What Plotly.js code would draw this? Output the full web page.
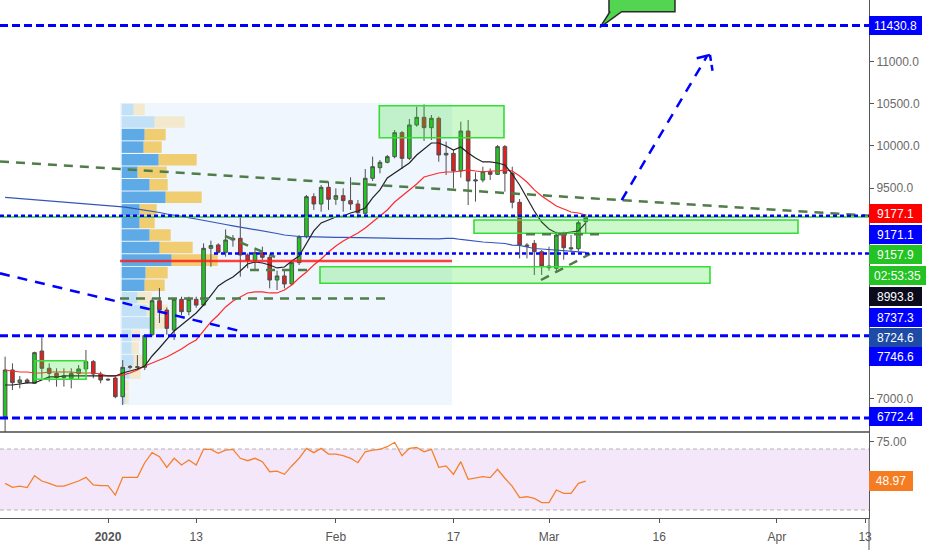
<!DOCTYPE html>
<html><head><meta charset="utf-8">
<script src="https://cdn.plot.ly/plotly-3.0.1.min.js"></script>
<style>body{margin:0;background:#fff}#chart{width:932px;height:550px}</style>
</head><body><div id="chart"></div>
<script>
// ---------- daily candles (BTCUSD) ----------
const dates = [
'2019-12-18','2019-12-19','2019-12-20','2019-12-21','2019-12-22','2019-12-23','2019-12-24','2019-12-25','2019-12-26','2019-12-27','2019-12-28','2019-12-29','2019-12-30','2019-12-31',
'2020-01-01','2020-01-02','2020-01-03','2020-01-04','2020-01-05','2020-01-06','2020-01-07','2020-01-08','2020-01-09','2020-01-10','2020-01-11','2020-01-12','2020-01-13','2020-01-14','2020-01-15','2020-01-16','2020-01-17','2020-01-18','2020-01-19','2020-01-20','2020-01-21','2020-01-22','2020-01-23','2020-01-24','2020-01-25','2020-01-26','2020-01-27','2020-01-28','2020-01-29','2020-01-30','2020-01-31',
'2020-02-01','2020-02-02','2020-02-03','2020-02-04','2020-02-05','2020-02-06','2020-02-07','2020-02-08','2020-02-09','2020-02-10','2020-02-11','2020-02-12','2020-02-13','2020-02-14','2020-02-15','2020-02-16','2020-02-17','2020-02-18','2020-02-19','2020-02-20','2020-02-21','2020-02-22','2020-02-23','2020-02-24','2020-02-25','2020-02-26','2020-02-27','2020-02-28','2020-02-29',
'2020-03-01','2020-03-02','2020-03-03','2020-03-04','2020-03-05','2020-03-06'];
const open = [6787,7341,7191,7222,7183,7566,7361,7301,7250,7242,7301,7353,7440,7293,
7222,7246,7024,7373,7380,7373,7760,8163,8052,7815,8180,8033,8180,8111,8785,8825,8738,8884,8904,8706,8639,8734,8678,8409,8457,8362,8615,8923,9398,9311,9509,
9367,9410,9351,9311,9200,9616,9742,9806,9873,10158,9853,10249,10340,10217,10328,9893,9912,9703,10177,9584,9596,9695,9663,9992,9675,9331,8824,8844,8745,
8575,8548,8951,8792,8780,9101];
const high = [7499,7420,7270,7242,7558,7729,7420,7361,7361,7361,7400,7578,7460,7321,
7242,7262,7459,7400,7518,7760,8190,8314,8083,8190,8211,8211,8211,8844,8876,8844,9010,8943,9181,8726,8765,8805,8706,8520,8528,8647,8943,9418,9438,9537,9576,
9497,9497,9628,9359,9726,9873,9833,9893,10189,10177,10320,10466,10494,10367,10348,10051,9952,10288,10308,9687,9754,9734,10011,10011,9754,9370,8848,8884,8765,
8804,8982,8982,8943,9121,9192];
const low = [6600,7103,7123,7183,7180,7242,7202,7143,7143,7123,7222,7321,7242,7183,
7210,7005,6925,7350,7340,7340,7740,7899,7760,7697,7993,7990,8080,8100,8567,8726,8686,8805,8449,8548,8528,8647,8310,8290,8310,8350,8587,8904,9240,9220,9240,
9300,9220,9240,9141,9180,9584,9675,9794,9853,9726,9833,10229,10059,10071,9813,9655,9497,9624,9299,9339,9568,9596,9655,9457,9260,8666,8666,8468,8468,
8520,8508,8650,8740,8752,8967];
const close = [7341,7191,7222,7191,7547,7361,7301,7250,7270,7301,7353,7440,7293,7222,
7230,7024,7373,7380,7373,7750,8163,8052,7835,8180,8033,8180,8111,8785,8817,8738,8884,8904,8706,8639,8734,8678,8409,8457,8362,8615,8923,9398,9311,9509,9367,
9410,9351,9311,9208,9616,9754,9806,9873,10158,9853,10249,10340,10217,10328,9893,9912,9703,10177,9584,9596,9695,9663,9992,9675,9331,8824,8810,8745,8575,
8555,8943,8792,8780,9089,9157.9];

// ---------- moving averages ----------
const maFast = [7163,7163,7175,7187,7187,7222,7258,7258,7270,7270,7270,7270,7270,7270,7270,7270,7305,7329,7353,7388,
7507,7602,7697,7804,7875,7946,8017,8112,8231,8338,8397,8445,8516,8599,8623,8611,8587,8552,8563,8635,
8694,8848,8991,9086,9121,9157,9169,9204,9228,9264,9383,9478,9620,9679,9738,9798,9893,9964,10035,10035,
9999,9952,9988,9917,9857,9810,9810,9798,9774,9667,9537,9383,9228,9097,9014,8967,8967,8979,8991,9086];
const maMid = [7341,7329,7317,7317,7305,7305,7317,7317,7317,7317,7305,7305,7305,7293,7270,7270,7281,7305,7341,7388,
7424,7460,7495,7543,7590,7650,7697,7804,7911,7994,8089,8160,8207,8255,8267,8267,8255,8255,8290,8350,
8433,8504,8587,8658,8741,8813,8872,8919,8967,9026,9097,9169,9240,9335,9406,9478,9549,9632,9655,9679,
9691,9691,9703,9715,9703,9691,9703,9703,9715,9703,9644,9572,9478,9406,9347,9287,9252,9216,9204,9181];
const maSlow = [9389,9382,9375,9368,9361,9354,9347,9341,9335,9328,9321,9315,9308,9302,9296,9287,9276,9264,9252,9234,
9222,9210,9192,9181,9169,9150,9133,9115,9097,9082,9068,9052,9038,9023,9009,8994,8979,8961,8943,8931,
8925,8923,8923,8919,8919,8916,8914,8911,8908,8908,8908,8908,8905,8904,8902,8902,8899,8898,8896,8896,
8902,8902,8890,8878,8866,8860,8854,8848,8842,8824,8819,8801,8783,8777,8771,8765,8753,8747,8741,8738];

// ---------- RSI ----------
const rsi = [47.5,44.9,45.7,44.7,52.5,49.0,47.5,45.7,45.7,47.5,
49.0,51.4,46.4,46.0,46.0,39.8,51.4,51.4,51.4,61.0,
67.6,65.0,58.0,63.9,59.5,62.8,59.5,69.8,69.8,67.2,
69.3,69.8,63.9,62.3,63.9,61.7,55.1,55.5,53.4,58.9,
63.9,70.4,67.6,70.4,66.7,66.7,65.6,63.9,61.0,68.2,
69.3,69.8,71.5,74.4,65.6,70.4,71.0,68.2,69.8,58.0,
58.9,53.4,61.7,50.1,50.8,51.9,51.2,56.7,50.8,45.5,
38.1,38.7,37.6,34.8,34.8,43.1,40.9,40.9,47.5,48.97];

// ---------- volume profile (rows by price) ----------
const vpLevels = [10433,10284,10135,9986,9837,9688,9539,9390,9241,9092,8943,8794,8645,8496,8347,8198,8049,7900,7751,7602,7453,7304,7155,7006];
const vpUp   = [12,33,23,22,37,16,28,44,18,18,28,38,50,24,23,16,25,29,10,10,12,8,4,4];
const vpDown = [11,30,21,18,38,29,18,36,17,15,21,33,46,22,20,14,21,16,8,7,9,11,3,3];
const vpStart = '2020-01-02 20:44';
const vpBgX = ['2020-01-02 15:10','2020-02-16 19:10'];
const vpBgY = [6925,10510];
const pocLevel = 8634.5;

// ---------- drawings ----------
const heavyLevels = [11430.8, 7746.6, 6772.4];
const dotLevel = 9171.1;
const supportLevel = 8724.6, supportStart = '2020-01-15 10:00';
const zoneX0 = ['2020-02-06 21:50','2020-02-19 19:10','2020-01-29 20:10','2019-12-22 01:40'];
const zoneX1 = ['2020-02-23 21:00','2020-04-03 21:00','2020-03-22 21:40','2019-12-29 00:15'];
const zoneY0 = [10098, 8963, 8370, 7231];
const zoneY1 = [10478, 9121, 8567, 7451];
const trendX0 = ['2019-12-17 07:20','2020-01-02 15:10','2020-01-16 22:00','2020-01-20 07:40','2020-02-28 21:40','2020-02-26 21:00'];
const trendY0 = [9815, 8189, 8931, 8527, 8409, 8951];
const trendX1 = ['2020-04-13 12:53','2020-02-08 08:50','2020-01-23 17:20','2020-01-28 11:30','2020-03-06 14:00','2020-03-07 22:30'];
const trendY1 = [9173, 8189, 8682, 8527, 8718, 8951];
const descX = ['2019-12-17 07:20','2020-01-19 05:30'], descY = [8488, 7798];
const arrowX = ['2020-03-10 21:20','2020-03-22 11:00'], arrowY = [9358, 11059];
const chevX = ['2020-03-21 02:20','2020-03-22 21:40','2020-03-23 06:30'], chevY = [11040, 11080, 10881];
const calloutX = ['2020-03-09 03:50','2020-03-18 03:20','2020-03-18 03:20','2020-03-10 21:20','2020-03-07 22:30','2020-03-09 07:10','2020-03-09 03:50','2020-03-09 03:50'];
const calloutY = [11950,11950,11593,11593,11408,11593,11593,11950];

// ---------- axis tick labels ----------
const xTickVals = ['2020-01-01','2020-01-13','2020-02-01','2020-02-17','2020-03-01','2020-03-16','2020-04-01','2020-04-13'];
const xTickText = ['<b>2020</b>','13','Feb','17','Mar','16','Apr','13'];
const yTickVals = [7000, 9500, 10000, 10500, 11000];
const priceLabels = ['11430.8','9177.1','9171.1','9157.9','02:53:35','8993.8','8737.3','8724.6','7746.6','6772.4'];
const rsiLabel = '48.97';

// ---------- build ----------
const FONT = 'Liberation Sans, Arial, sans-serif';
const DAY_PER_UNIT = 86400000/7.35;
const vpBaseMs = new Date(vpStart.replace(' ','T')+':00Z').getTime();
const vaTop = 2, vaBot = 14;
const upCol = vpUp.map((v,i)=> (i>=vaTop && i<=vaBot) ? '#5eaae6' : '#c2e0f6');
const dnCol = vpDown.map((v,i)=> (i>=vaTop && i<=vaBot) ? '#f1cd72' : '#f2e9cf');

const traces = [
  {type:'bar', orientation:'h', y:vpLevels, x:vpUp.map(v=>v*DAY_PER_UNIT), base:vpLevels.map(()=>vpBaseMs),
   width:137, marker:{color:upCol, line:{width:0}}, xaxis:'x', yaxis:'y', hoverinfo:'skip'},
  {type:'bar', orientation:'h', y:vpLevels, x:vpDown.map(v=>v*DAY_PER_UNIT), base:vpUp.map(v=>vpBaseMs+v*DAY_PER_UNIT),
   width:137, marker:{color:dnCol, line:{width:0}}, xaxis:'x', yaxis:'y', hoverinfo:'skip'},
  {type:'candlestick', x:dates, open:open, high:high, low:low, close:close, xaxis:'x', yaxis:'y',
   whiskerwidth:0,
   increasing:{line:{color:'#4f4f4f', width:1}, fillcolor:'#22c622'},
   decreasing:{line:{color:'#4f4f4f', width:1}, fillcolor:'#e81d1d'}, hoverinfo:'skip'},
  {type:'scatter', mode:'lines', x:dates, y:maSlow, line:{color:'#3556b8', width:1.2}, xaxis:'x', yaxis:'y', hoverinfo:'skip'},
  {type:'scatter', mode:'lines', x:dates, y:maMid, line:{color:'#ff2b2b', width:1.2}, xaxis:'x', yaxis:'y', hoverinfo:'skip'},
  {type:'scatter', mode:'lines', x:dates, y:maFast, line:{color:'#222222', width:1.2}, xaxis:'x', yaxis:'y', hoverinfo:'skip'},
  {type:'scatter', mode:'lines', x:calloutX, y:calloutY, fill:'toself', fillcolor:'#52d652', line:{color:'#2b2b2b', width:1.5}, xaxis:'x', yaxis:'y', hoverinfo:'skip'},
  {type:'scatter', mode:'lines', x:dates, y:rsi, line:{color:'#f5802b', width:1.3}, xaxis:'x', yaxis:'y2', hoverinfo:'skip'}
];

const shapes = [];
// VP background
shapes.push({type:'rect', xref:'x', yref:'y', x0:vpBgX[0], x1:vpBgX[1], y0:vpBgY[0], y1:vpBgY[1], fillcolor:'#eff6fd', line:{width:0}, layer:'below'});
// RSI band
shapes.push({type:'rect', xref:'paper', yref:'y2', x0:0, x1:1, y0:30, y1:70, fillcolor:'#f5e7fa', line:{width:0}, layer:'below'});
[30,70].forEach(v=>shapes.push({type:'line', xref:'paper', yref:'y2', x0:0, x1:1, y0:v, y1:v, line:{color:'#b3b3b3', width:1, dash:'4px,3px'}, layer:'below'}));
// POC line
shapes.push({type:'line', xref:'x', yref:'y', x0:vpBgX[0], x1:vpBgX[1], y0:pocLevel, y1:pocLevel, line:{color:'rgba(255,30,30,0.85)', width:2.5}});
// zones
zoneX0.forEach((x0,i)=>shapes.push({type:'rect', xref:'x', yref:'y', x0:x0, x1:zoneX1[i], y0:zoneY0[i], y1:zoneY1[i],
  fillcolor:'rgba(40,225,40,0.24)', line:{color:'#35dd35', width:1.6}}));
// green trend lines
trendX0.forEach((x0,i)=>shapes.push({type:'line', xref:'x', yref:'y', x0:x0, x1:trendX1[i], y0:trendY0[i], y1:trendY1[i],
  line:{color:'#4f7d48', width:2.5, dash:'9px,7px'}}));
// last price line (green dotted) + blue dotted level
shapes.push({type:'line', xref:'paper', yref:'y', x0:0, x1:1, y0:close[close.length-1], y1:close[close.length-1], line:{color:'#39c739', width:1.5}});
shapes.push({type:'line', xref:'paper', yref:'y', x0:0, x1:1, y0:dotLevel, y1:dotLevel, line:{color:'#0000ff', width:2.5, dash:'4px,3px'}});
shapes.push({type:'line', xref:'x', yref:'y', x0:supportStart, x1:'2020-04-13 12:53', y0:supportLevel, y1:supportLevel, line:{color:'#0000ff', width:2.5, dash:'4px,3px'}});
// heavy dashed levels
heavyLevels.forEach(v=>shapes.push({type:'line', xref:'paper', yref:'y', x0:0, x1:1, y0:v, y1:v, line:{color:'#0000ff', width:3, dash:'8px,4px'}}));
// blue dashed lines
shapes.push({type:'line', xref:'x', yref:'y', x0:descX[0], x1:descX[1], y0:descY[0], y1:descY[1], line:{color:'#0000ff', width:2.5, dash:'10px,8px'}});
shapes.push({type:'line', xref:'x', yref:'y', x0:arrowX[0], x1:arrowX[1], y0:arrowY[0], y1:arrowY[1], line:{color:'#0000ff', width:2.5, dash:'10px,8px'}});
shapes.push({type:'line', xref:'x', yref:'y', x0:chevX[0], x1:chevX[1], y0:chevY[0], y1:chevY[1], line:{color:'#0000ff', width:2.5}});
shapes.push({type:'line', xref:'x', yref:'y', x0:chevX[1], x1:chevX[2], y0:chevY[1], y1:chevY[2], line:{color:'#0000ff', width:2.5, dash:'6px,4px'}});
// pane separator and axis extension
const RSI_TOP = 86/518;
shapes.push({type:'line', xref:'paper', yref:'paper', x0:0, x1:1, y0:RSI_TOP, y1:RSI_TOP, line:{color:'#4a4a4a', width:1.5}});
shapes.push({type:'line', xref:'paper', yref:'paper', x0:1, x1:1, y0:-0.07, y1:0, line:{color:'#555', width:1}});

// right-side labels
const labelBg = ['#0000ff','#ff0000','#0000ff','#22c322','#22c322','#0b0b1c','#0000ff','#1d4ba6','#0000ff','#0000ff'];
const labelPx = [25.8, 213.3, 234.5, 254, 275.5, 296.8, 317.3, 337, 356.7, 416.3];
const annotations = priceLabels.map((t,i)=>({
  xref:'paper', yref:'paper', x:1, xanchor:'left', y:1-labelPx[i]/518, yanchor:'middle',
  text:t, showarrow:false, bgcolor:labelBg[i], borderwidth:0, borderpad:2,
  width: t.length>7 && t.indexOf(':')>0 ? 53 : 49, height:15, align:'center',
  font:{family:FONT, size:12, color:'#ffffff'}
}));
annotations.push({xref:'paper', yref:'paper', x:1, xanchor:'left', y:1-481/518, yanchor:'middle', text:rsiLabel,
  showarrow:false, bgcolor:'#f57c20', borderwidth:0, borderpad:2, width:40, height:16, align:'center',
  font:{family:FONT, size:12, color:'#ffffff'}});
annotations.push({xref:'x', yref:'paper', x:'2020-03-13 15:00', y:1.008, yanchor:'middle', text:heavyLevels[0].toFixed(1),
  showarrow:false, font:{family:FONT, size:12, color:'#1a1a1a'}});

const layout = {
  width:932, height:550, margin:{l:0, r:63, t:0, b:32},
  paper_bgcolor:'#ffffff', plot_bgcolor:'#ffffff', showlegend:false, barmode:'overlay',
  font:{family:FONT, size:12, color:'#666'},
  xaxis:{type:'date', range:['2019-12-17 07:20','2020-04-13 12:53'], anchor:'y2', showgrid:false, zeroline:false,
    showline:true, linecolor:'#555', linewidth:1, ticks:'outside', ticklen:4, tickcolor:'#555',
    tickvals:xTickVals, ticktext:xTickText, tickfont:{family:FONT, size:12, color:'#555'}, ticklabelstandoff:4,
    rangeslider:{visible:false}, fixedrange:true},
  yaxis:{domain:[RSI_TOP,1], range:[6604.9, 11732.3], side:'right', anchor:'x', showgrid:false, zeroline:false,
    showline:true, linecolor:'#555', linewidth:1, ticks:'outside', ticklen:4, tickcolor:'#555',
    tickvals:yTickVals, tickformat:'.1f', tickfont:{family:FONT, size:12, color:'#6a6a6a'}, fixedrange:true},
  yaxis2:{domain:[0,RSI_TOP], range:[24.75, 81.15], side:'right', anchor:'x', showgrid:false, zeroline:false,
    showline:true, linecolor:'#555', linewidth:1, ticks:'outside', ticklen:4, tickcolor:'#555',
    tickvals:[75], ticktext:['75.00'], tickfont:{family:FONT, size:12, color:'#6a6a6a'}, fixedrange:true},
  shapes:shapes, annotations:annotations
};

Plotly.newPlot('chart', traces, layout, {staticPlot:true, displayModeBar:false});
</script></body></html>
